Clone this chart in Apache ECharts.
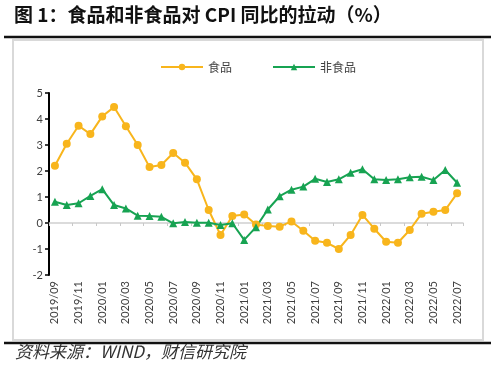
<!DOCTYPE html>
<html><head><meta charset="utf-8">
<script src="https://cdn.jsdelivr.net/npm/echarts@6/dist/echarts.min.js"></script>
<style>html,body{margin:0;padding:0;background:#fff}#c{width:500px;height:367px}</style>
</head><body><div id="c"></div>
<script>
const months = ['2019/09','2019/10','2019/11','2019/12','2020/01','2020/02','2020/03','2020/04','2020/05','2020/06','2020/07','2020/08','2020/09','2020/10','2020/11','2020/12','2021/01','2021/02','2021/03','2021/04','2021/05','2021/06','2021/07','2021/08','2021/09','2021/10','2021/11','2021/12','2022/01','2022/02','2022/03','2022/04','2022/05','2022/06','2022/07'];
const food = [2.2,3.05,3.74,3.42,4.1,4.46,3.72,3.0,2.15,2.23,2.69,2.32,1.68,0.5,-0.46,0.27,0.33,-0.06,-0.12,-0.14,0.06,-0.3,-0.68,-0.76,-1.0,-0.46,0.31,-0.22,-0.72,-0.76,-0.27,0.36,0.43,0.5,1.14];
const nonFood = [0.82,0.69,0.76,1.04,1.3,0.69,0.56,0.28,0.27,0.24,-0.01,0.04,0.01,0.01,-0.08,-0.01,-0.65,-0.16,0.52,1.03,1.28,1.4,1.7,1.58,1.68,1.93,2.07,1.68,1.65,1.68,1.76,1.78,1.65,2.04,1.55];
const yTicks = {min:-2, max:5, interval:1};
const seriesNames = ['食品','非食品'];
const titleText = '图 1：食品和非食品对 CPI 同比的拉动（%）';
const sourceText = '资料来源：WIND，财信研究院';

const chart = echarts.init(document.getElementById('c'), null, {renderer:'canvas'});
const FOOD_C = '#F8B51C', NF_C = '#17A352';
chart.setOption({
  animation:false,
  backgroundColor:'#fff',
  graphic:[
    {type:'text', left:14, top:5, style:{text:titleText, font:'bold 19px "Noto Sans CJK SC"', fill:'#111'}},
    {type:'line', shape:{x1:4,y1:37,x2:491,y2:37}, style:{stroke:'#111', lineWidth:2.5}},
    {type:'rect', shape:{x:13,y:40,width:470,height:300}, style:{fill:'none', stroke:'#d9d9d9', lineWidth:2}},
    {type:'line', shape:{x1:4,y1:343,x2:491,y2:343}, style:{stroke:'#111', lineWidth:2.5}},
    {type:'text', left:15, top:343, style:{text:sourceText, font:'italic 17px "Noto Sans CJK SC"', fill:'#333'}}
  ],
  legend:{
    top:56, left:155, itemGap:40, itemWidth:42, itemHeight:8,
    textStyle:{color:'#404040', fontSize:12, fontFamily:'"Noto Sans CJK SC"'},
    data:seriesNames
  },
  grid:{left:49, right:37, top:93, bottom:92, containLabel:false},
  xAxis:[
    {type:'category', data:months, position:'bottom', boundaryGap:true,
     axisLine:{show:false, onZero:false}, axisTick:{show:false},
     axisLabel:{interval:1, rotate:90, color:'#404040', fontSize:11, fontFamily:'Lato', margin:6}},
    {type:'category', data:months, position:'bottom', boundaryGap:true,
     axisLine:{show:true, onZero:true, lineStyle:{color:'#d0d0d0', width:1.5}},
     axisTick:{show:true, interval:1, length:3, lineStyle:{color:'#c8c8c8'}},
     axisLabel:{show:false}}
  ],
  yAxis:{type:'value', min:yTicks.min, max:yTicks.max, interval:yTicks.interval,
    axisLine:{show:true, lineStyle:{color:'#000', width:2}},
    axisTick:{show:true, length:4, lineStyle:{color:'#000', width:1.5}},
    splitLine:{show:false},
    axisLabel:{color:'#404040', fontSize:11, fontFamily:'Lato', margin:6}},
  series:[
    {name:seriesNames[0], type:'line', data:food, xAxisIndex:0, symbol:'circle', symbolSize:8,
     showSymbol:true, showAllSymbol:true,
     lineStyle:{color:FOOD_C, width:2}, itemStyle:{color:FOOD_C}},
    {name:seriesNames[1], type:'line', data:nonFood, xAxisIndex:0, symbol:'triangle', symbolSize:8,
     showSymbol:true, showAllSymbol:true,
     lineStyle:{color:NF_C, width:2}, itemStyle:{color:NF_C}}
  ]
});
</script></body></html>
